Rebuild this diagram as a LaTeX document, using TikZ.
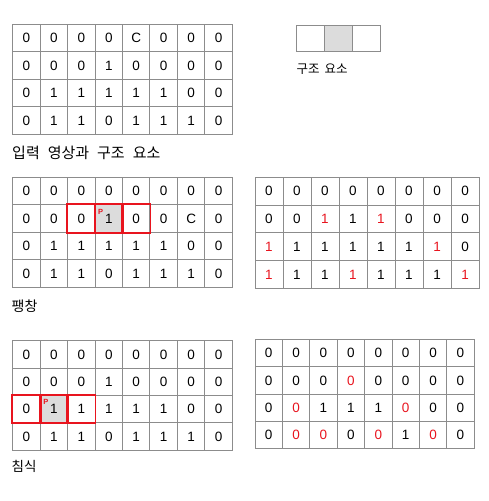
\documentclass[tikz,border=0pt]{standalone}
\usepackage{fontspec}
\setmainfont{Liberation Sans}
\newfontfamily\kr{Noto Sans CJK KR}
\usetikzlibrary{backgrounds}
\definecolor{gridgray}{HTML}{8C8C8C}
\definecolor{cellfill}{HTML}{DCDCDC}
\definecolor{hl}{HTML}{E8141E}
\newcommand\R[1]{\textcolor{hl}{#1}}
\tikzset{
  cell/.style={draw=gridgray, line width=1pt, inner sep=0pt, font=\fontsize{13.5}{14}\selectfont},
  redframe/.style={draw=hl, line width=1.8pt},
  pmark/.style={text=hl, inner sep=0pt, font=\bfseries\fontsize{7.5}{7.5}\selectfont},
  krlabel/.style={anchor=west, inner sep=0pt, font=\kr\fontsize{14}{16}\selectfont},
}
\newcommand\mkgrid[6]{%
  \foreach \row [count=\r] in {#6} {
    \foreach \v [count=\c] in \row {
      \node[cell, minimum width=#4pt, minimum height=#5pt] (#1-\r-\c) at ({#2+(\c-0.5)*#4}, {#3+(\r-0.5)*#5}) {\v};
    }
  }%
}
\begin{document}
\begin{tikzpicture}[x=1pt,y=-1pt]
\useasboundingbox (0,0) rectangle (488,501);
% input image
\mkgrid{ga}{12.7}{24.3}{27.45}{27.45}{{0,0,0,0,C,0,0,0},{0,0,0,1,0,0,0,0},{0,1,1,1,1,1,0,0},{0,1,1,0,1,1,1,0}}
\node[krlabel, font=\kr\fontsize{15}{16}\selectfont] (la) at (12,152.5) {\spaceskip=8pt 입력 영상과 구조 요소};
% structuring element
\node[cell, minimum width=27.8pt, minimum height=26pt] (se-1) at (310.6,38) {};
\node[cell, minimum width=27.8pt, minimum height=26pt, fill=cellfill] (se-2) at (338.4,38) {};
\node[cell, minimum width=27.8pt, minimum height=26pt] (se-3) at (366.2,38) {};
\node[krlabel, font=\kr\fontsize{12.5}{14}\selectfont] (lse) at (296.5,69) {\spaceskip=5pt 구조 요소};
% dilation
\mkgrid{gb}{12.7}{177.3}{27.45}{27.5}{{0,0,0,0,0,0,0,0},{0,0,0,1,0,0,C,0},{0,1,1,1,1,1,0,0},{0,1,1,0,1,1,1,0}}
\begin{pgfonlayer}{background}
\fill[cellfill] (gb-2-4.north west) rectangle (gb-2-4.south east);
\end{pgfonlayer}
\draw[redframe] (gb-2-3.north west) rectangle (gb-2-3.south east);
\draw[redframe] (gb-2-4.north west) rectangle (gb-2-4.south east);
\draw[redframe] (gb-2-5.north west) rectangle (gb-2-5.south east);
\node[pmark] (pb) at ([xshift=-8.1pt,yshift=6.8pt]gb-2-4.center) {P};
\node[krlabel] (lb) at (11.5,306.5) {팽창};
\mkgrid{gc}{255}{177.3}{28}{27.75}{{0,0,0,0,0,0,0,0},{0,0,\R{1},1,\R{1},0,0,0},{\R{1},1,1,1,1,1,\R{1},0},{\R{1},1,1,\R{1},1,1,1,\R{1}}}
% erosion
\mkgrid{gd}{12.7}{340.7}{27.45}{27.33}{{0,0,0,0,0,0,0,0},{0,0,0,1,0,0,0,0},{0,1,1,1,1,1,0,0},{0,1,1,0,1,1,1,0}}
\begin{pgfonlayer}{background}
\fill[cellfill] (gd-3-2.north west) rectangle (gd-3-2.south east);
\end{pgfonlayer}
\draw[redframe] (gd-3-1.north west) rectangle (gd-3-1.south east);
\draw[redframe] (gd-3-2.north west) rectangle (gd-3-2.south east);
\draw[redframe] (gd-3-3.north west) rectangle (gd-3-3.south east);
\node[pmark] (pd) at ([xshift=-8.1pt,yshift=6.8pt]gd-3-2.center) {P};
\node[krlabel, font=\kr\fontsize{13.5}{16}\selectfont] (ld) at (11.5,466.5) {침식};
\mkgrid{ge}{255}{339.3}{27.4}{27.4}{{0,0,0,0,0,0,0,0},{0,0,0,\R{0},0,0,0,0},{0,\R{0},1,1,1,\R{0},0,0},{0,\R{0},\R{0},0,\R{0},1,\R{0},0}}
\end{tikzpicture}
\end{document}
